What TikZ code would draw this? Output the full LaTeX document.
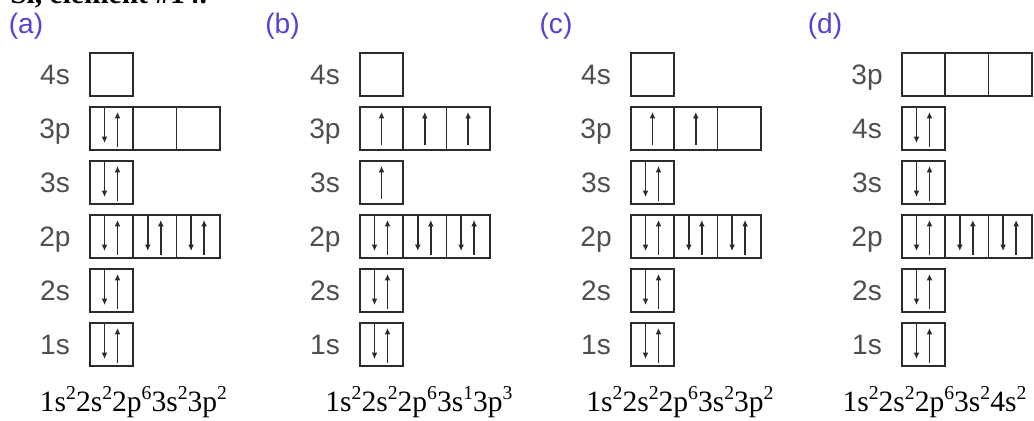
\documentclass[tikz,border=0pt]{standalone}
\usepackage{fontspec}
\setmainfont{Liberation Serif}
\setsansfont{Liberation Sans}
\usetikzlibrary{arrows.meta}
\definecolor{ink}{HTML}{2B2B2B}
\definecolor{shellText}{HTML}{4F4F4F}
\definecolor{tagText}{HTML}{5B3FD6}
\newcommand{\ups}[1]{\raisebox{0.42em}{\fontsize{14}{14}\selectfont #1}}
\tikzset{
  x=0.025cm, y=0.025cm,
  >={Latex[length=4.5pt, width=4.2pt]},
  spin/.style={->, line width=1.1pt, draw=ink},
  cell/.style={draw=ink, line width=1.2pt, minimum width=1.083cm, minimum height=1.075cm,
    inner sep=0pt, anchor=west},
  vacant/.style={cell},
  paired/.style={cell, path picture={
      \draw[spin] ([shift={(-7,0)}]path picture bounding box.north) -- ++(0,-36);
      \draw[spin] ([shift={(6,3)}]path picture bounding box.south) -- ++(0,35);}},
  lone/.style={cell, path picture={
      \draw[spin] ([shift={(0,5)}]path picture bounding box.south) -- ++(0,33);}},
  shell/.style={anchor=base, inner sep=0pt, font=\sffamily\fontsize{20}{24}\selectfont, text=shellText},
  tag/.style={anchor=base, inner sep=0pt, font=\sffamily\fontsize{20}{24}\selectfont, text=tagText},
  config/.style={anchor=base, inner sep=0pt, font=\fontsize{21}{25}\selectfont, text=black},
  title/.style={anchor=base west, inner sep=0pt, font=\bfseries\fontsize{21}{25}\selectfont, text=black},
}

\begin{document}
\begin{tikzpicture}
  \useasboundingbox (0,0) rectangle (1034,421);

  \node[title] (title) at (10, 417) {Si, element \#14.};

  % ---------------------------------------------------------------- (a)
  \node[tag] (tagA) at (26, 387) {(a)};
  \foreach \lbl/\y/\cells in {4s/346.5/{vacant}, 3p/292.5/{paired,vacant,vacant},
      3s/238.5/{paired}, 2p/184.5/{paired,paired,paired}, 2s/130.5/{paired}, 1s/76.5/{paired}} {
    \node[shell] (a-\lbl) at (55, \y-10) {\lbl};
    \foreach \s [count=\i] in \cells
      \node[\s] (a-\lbl-\i) at (89+43.3*\i-43.3, \y) {};
  }
  \node[config] (a-config) at (133.5, 9) {1s\ups{2}2s\ups{2}2p\ups{6}3s\ups{2}3p\ups{2}};

  % ---------------------------------------------------------------- (b)
  \node[tag] (tagB) at (282.5, 387) {(b)};
  \foreach \lbl/\y/\cells in {4s/346.5/{vacant}, 3p/292.5/{lone,lone,lone},
      3s/238.5/{lone}, 2p/184.5/{paired,paired,paired}, 2s/130.5/{paired}, 1s/76.5/{paired}} {
    \node[shell] (b-\lbl) at (325, \y-10) {\lbl};
    \foreach \s [count=\i] in \cells
      \node[\s] (b-\lbl-\i) at (359+43.3*\i-43.3, \y) {};
  }
  \node[config] (b-config) at (419, 9) {1s\ups{2}2s\ups{2}2p\ups{6}3s\ups{1}3p\ups{3}};

  % ---------------------------------------------------------------- (c)
  \node[tag] (tagC) at (556, 387) {(c)};
  \foreach \lbl/\y/\cells in {4s/346.5/{vacant}, 3p/292.5/{lone,lone,vacant},
      3s/238.5/{paired}, 2p/184.5/{paired,paired,paired}, 2s/130.5/{paired}, 1s/76.5/{paired}} {
    \node[shell] (c-\lbl) at (596, \y-10) {\lbl};
    \foreach \s [count=\i] in \cells
      \node[\s] (c-\lbl-\i) at (630+43.3*\i-43.3, \y) {};
  }
  \node[config] (c-config) at (680, 9) {1s\ups{2}2s\ups{2}2p\ups{6}3s\ups{2}3p\ups{2}};

  % ---------------------------------------------------------------- (d)
  \node[tag] (tagD) at (825, 387) {(d)};
  \foreach \lbl/\y/\cells in {3p/346.5/{vacant,vacant,vacant}, 4s/292.5/{paired},
      3s/238.5/{paired}, 2p/184.5/{paired,paired,paired}, 2s/130.5/{paired}, 1s/76.5/{paired}} {
    \node[shell] (d-\lbl) at (867, \y-10) {\lbl};
    \foreach \s [count=\i] in \cells
      \node[\s] (d-\lbl-\i) at (901+43.3*\i-43.3, \y) {};
  }
  \node[config] (d-config) at (934.5, 9) {1s\ups{2}2s\ups{2}2p\ups{6}3s\ups{2}4s\ups{2}};

\end{tikzpicture}
\end{document}
